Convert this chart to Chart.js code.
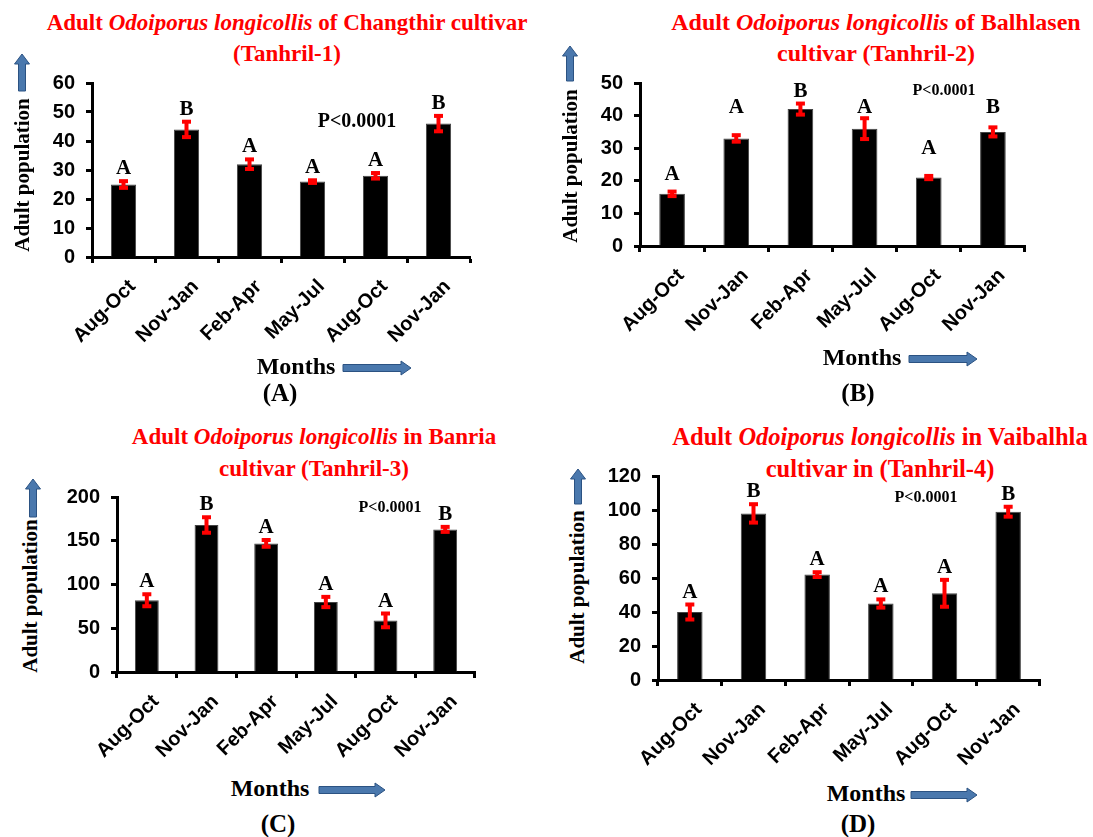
<!DOCTYPE html>
<html>
<head>
<meta charset="utf-8">
<script src="https://cdn.jsdelivr.net/npm/chart.js@4.4.1/dist/chart.umd.min.js"></script>
<style>
  body { margin: 0; background: #fff; width: 1093px; height: 837px; position: relative; overflow: hidden; font-family: "Liberation Serif", "Times New Roman", serif; }
  canvas { position: absolute; }
  .t { position: absolute; font-weight: bold; white-space: nowrap; transform: translate(-50%, -50%); line-height: 1; color: #000; }
  .title { color: #ff0000; text-align: center; line-height: 31.5px; transform: translateX(-50%); }
  .ytitle { transform: translate(-50%, -50%) rotate(-90deg); }
  svg { position: absolute; }
</style>
</head>
<body>

<script>
// categories shared by all four panels
const categories = ["Aug-Oct", "Nov-Jan", "Feb-Apr", "May-Jul", "Aug-Oct", "Nov-Jan"];

// (A) Changthir cultivar, Tanhril-1
const meanA = [25, 44, 32, 26, 28, 46];
const errA = [1.5, 3, 2, 0.8, 1.3, 3];
const lettersA = ["A", "B", "A", "A", "A", "B"];
const yTicksA = [0, 10, 20, 30, 40, 50, 60];

// (B) Balhlasen cultivar, Tanhril-2
const meanB = [16, 33, 42, 36, 21, 35];
const errB = [1, 1.3, 2, 3.5, 0.8, 1.7];
const lettersB = ["A", "A", "B", "A", "A", "B"];
const letterLevelB = [22, 42.5, 47.5, 42.5, 30, 42.5]; // letters sit at these values in (B)
const yTicksB = [0, 10, 20, 30, 40, 50];

// (C) Banria cultivar, Tanhril-3
const meanC = [82, 168, 147, 80, 59, 163];
const errC = [8, 10, 5, 7, 9, 4];
const lettersC = ["A", "B", "A", "A", "A", "B"];
const yTicksC = [0, 50, 100, 150, 200];

// (D) Vaibalhla cultivar, Tanhril-4
const meanD = [40, 98, 62, 45, 51, 99];
const errD = [5, 6, 2, 3, 8.5, 3.5];
const lettersD = ["A", "B", "A", "A", "A", "B"];
const yTicksD = [0, 20, 40, 60, 80, 100, 120];

const pText = "P<0.0001";

// error bars + significance letters
const errPlugin = {
  id: "errLetters",
  afterDatasetsDraw(chart, args, opts) {
    const ctx = chart.ctx;
    const y = chart.scales.y;
    const vals = chart.data.datasets[0].data;
    ctx.save();
    chart.getDatasetMeta(0).data.forEach((bar, i) => {
      const hi = y.getPixelForValue(vals[i] + opts.err[i]);
      const lo = y.getPixelForValue(vals[i] - opts.err[i]);
      ctx.strokeStyle = "#ff0000";
      ctx.lineWidth = 4;
      ctx.beginPath();
      ctx.moveTo(bar.x, hi);
      ctx.lineTo(bar.x, lo);
      ctx.stroke();
      ctx.fillStyle = "#ff0000";
      ctx.fillRect(bar.x - 4.5, hi - 1, 9, 4);
      ctx.fillRect(bar.x - 4.5, lo - 3, 9, 4);
      ctx.fillStyle = "#000";
      ctx.font = 'bold 21px "Liberation Serif"';
      ctx.textAlign = "center";
      if (opts.level) {
        ctx.textBaseline = "middle";
        ctx.fillText(opts.letters[i], bar.x, y.getPixelForValue(opts.level[i]));
      } else {
        ctx.textBaseline = "alphabetic";
        ctx.fillText(opts.letters[i], bar.x, hi - 6);
      }
    });
    ctx.restore();
  }
};

function addText(html, cx, cy, size, cls) {
  const d = document.createElement("div");
  d.className = "t" + (cls ? " " + cls : "");
  d.style.left = cx + "px";
  d.style.top = cy + "px";
  d.style.fontSize = size + "px";
  d.innerHTML = html;
  document.body.appendChild(d);
}

function addTitle(line1, line2, cx, capY, size) {
  const d = document.createElement("div");
  d.className = "t title";
  d.style.left = cx + "px";
  d.style.top = (capY - 15.75) + "px";
  d.style.fontSize = size + "px";
  d.innerHTML = line1 + "<br>" + line2;
  document.body.appendChild(d);
}

function upArrow(cx, y0, y1) {
  const h = y1 - y0;
  const s = document.createElementNS("http://www.w3.org/2000/svg", "svg");
  s.setAttribute("width", 18); s.setAttribute("height", h);
  s.style.left = (cx - 9) + "px"; s.style.top = y0 + "px";
  s.innerHTML = `<polygon points="9,1 16.5,11 12.5,11 12.5,${h - 1} 5.5,${h - 1} 5.5,11 1.5,11" fill="#4a78ad" stroke="#2b5282" stroke-width="1"/>`;
  document.body.appendChild(s);
}

function rightArrow(x0, x1, cy) {
  const w = x1 - x0;
  const s = document.createElementNS("http://www.w3.org/2000/svg", "svg");
  s.setAttribute("width", w); s.setAttribute("height", 16);
  s.style.left = x0 + "px"; s.style.top = (cy - 8) + "px";
  s.innerHTML = `<polygon points="1,4.5 ${w - 11},4.5 ${w - 11},1 ${w - 1},8 ${w - 11},15 ${w - 11},11.5 1,11.5" fill="#4a78ad" stroke="#2b5282" stroke-width="1"/>`;
  document.body.appendChild(s);
}

function makePanel(mean, err, letters, level, yTicks, box) {
  const yW = 62, xH = 100, padTop = 32, padRight = 12;
  const cv = document.createElement("canvas");
  const w = box.r - box.l + yW + padRight;
  const h = box.b - box.t + padTop + xH;
  cv.width = w; cv.height = h;
  cv.style.left = (box.l - yW) + "px";
  cv.style.top = (box.t - padTop) + "px";
  document.body.appendChild(cv);

  new Chart(cv.getContext("2d"), {
    type: "bar",
    data: {
      labels: categories,
      datasets: [{
        data: mean,
        backgroundColor: "#000",
        borderColor: "#444",
        borderWidth: 1,
        barPercentage: 0.4,
        categoryPercentage: 1
      }]
    },
    options: {
      responsive: false,
      animation: false,
      devicePixelRatio: 1,
      layout: { padding: { top: padTop, right: padRight, left: 0, bottom: 0 } },
      plugins: {
        legend: { display: false },
        tooltip: { enabled: false },
        errLetters: { err: err, letters: letters, level: level }
      },
      scales: {
        x: {
          offset: true,
          border: { display: true, color: "#000", width: 3 },
          grid: { display: true, offset: true, drawOnChartArea: false, drawTicks: true, tickLength: 6, tickColor: "#000", tickWidth: 3 },
          ticks: { maxRotation: 45, minRotation: 45, padding: 12, labelOffset: 9, color: "#000", font: { family: "Liberation Sans", weight: "bold", size: 20 } },
          afterFit: s => { s.height = xH; }
        },
        y: {
          min: yTicks[0],
          max: yTicks[yTicks.length - 1],
          border: { display: true, color: "#000", width: 3 },
          grid: { display: true, drawOnChartArea: false, drawTicks: true, tickLength: 6, tickColor: "#000", tickWidth: 3 },
          ticks: { stepSize: yTicks[1] - yTicks[0], padding: 11, color: "#000", font: { family: "Liberation Sans", weight: "bold", size: 20 } },
          afterFit: s => { s.width = yW; }
        }
      }
    },
    plugins: [errPlugin]
  });
}

const sp = "<i>Odoiporus longicollis</i>";

// Panel A
addTitle("Adult " + sp + " of Changthir cultivar", "(Tanhril-1)", 287, 22.5, 23);
makePanel(meanA, errA, lettersA, null, yTicksA, { l: 92, r: 470, t: 83, b: 257 });
addText(pText, 357, 120, 20);
addText("Adult population", 22, 175, 21, "ytitle");
upArrow(22, 53, 92);
addText("Months", 296, 366, 24);
rightArrow(342, 412, 368);
addText("(A)", 280, 392, 25);

// Panel B
addTitle("Adult " + sp + " of Balhlasen", "cultivar (Tanhril-2)", 876, 22.5, 24);
makePanel(meanB, errB, lettersB, letterLevelB, yTicksB, { l: 640, r: 1025, t: 83, b: 246 });
addText(pText, 944, 90, 16);
addText("Adult population", 570, 166, 21, "ytitle");
upArrow(570, 45, 82);
addText("Months", 862, 357, 24);
rightArrow(908, 978, 359);
addText("(B)", 858, 392, 25);

// Panel C
addTitle("Adult " + sp + " in Banria", "cultivar (Tanhril-3)", 314, 437, 23);
makePanel(meanC, errC, lettersC, null, yTicksC, { l: 117, r: 475, t: 497, b: 672 });
addText(pText, 390, 507, 16);
addText("Adult population", 30, 596, 21, "ytitle");
upArrow(33, 478, 518);
addText("Months", 270, 788, 24);
rightArrow(318, 386, 790);
addText("(C)", 278, 823, 25);

// Panel D
addTitle("Adult " + sp + " in Vaibalhla", "cultivar in (Tanhril-4)", 880, 437, 24.5);
makePanel(meanD, errD, lettersD, null, yTicksD, { l: 658, r: 1040, t: 476, b: 680 });
addText(pText, 926, 497, 16);
addText("Adult population", 577, 587, 21, "ytitle");
upArrow(578, 468, 505);
addText("Months", 866, 793, 24);
rightArrow(910, 978, 795);
addText("(D)", 858, 823, 25);
</script>
</body>
</html>
